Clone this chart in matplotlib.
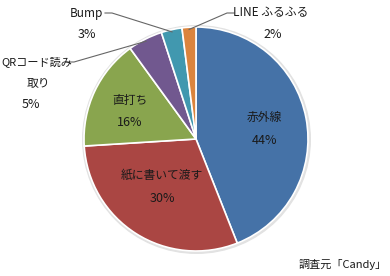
import numpy as np
import matplotlib.pyplot as plt
from matplotlib.patches import Circle

plt.rcParams['font.family'] = ['Noto Sans CJK JP', 'DejaVu Sans']

labels = ['赤外線', '紙に書いて渡す', '直打ち', 'QRコード読み\n取り', 'Bump', 'LINE ふるふる']
values = [44, 30, 16, 5, 3, 2]
colors = ['#4572A7', '#AA4643', '#89A54E', '#71588F', '#4198AF', '#DB843D']

W, H = 390, 276
cx, cy, r = 196, H - 139, 112

fig = plt.figure(figsize=(W / 100, H / 100), dpi=100)
ax = fig.add_axes([0, 0, 1, 1])

# soft shadow ring
ax.add_patch(Circle((cx + 0.5, cy - 0.5), r + 1.8, color='#e2e2e2', zorder=0))
wedges, _ = ax.pie(values, colors=colors, startangle=90, counterclock=False,
                   center=(cx, cy), radius=r, frame=True,
                   wedgeprops=dict(edgecolor='white', linewidth=1.2))
ax.set_xlim(0, W)
ax.set_ylim(0, H)
ax.set_aspect('equal')
ax.axis('off')

fs = 8.5
fp = 9
tc = '#1a1a1a'

def yy(y):
    return H - y

# inside labels
inside = {0: (264, 117, 141), 1: (162, 175, 199), 2: (130, 100, 123)}
for i, (x, y1, y2) in inside.items():
    ax.text(x, yy(y1), labels[i], ha='center', va='center', fontsize=fs, color=tc)
    ax.text(x, yy(y2), f'{values[i]}%', ha='center', va='center', fontsize=fp, color=tc)

def edge_point(i, frac=1.0):
    w = wedges[i]
    a = np.deg2rad((w.theta1 + w.theta2) / 2)
    return cx + r * frac * np.cos(a), cy + r * frac * np.sin(a)

# outside labels with leader lines
# QR
ax.text(1, yy(62), 'QRコード読み', ha='left', va='center', fontsize=8, color=tc)
ax.text(38, yy(83), '取り', ha='center', va='center', fontsize=fs, color=tc)
ax.text(31, yy(104), f'{values[3]}%', ha='center', va='center', fontsize=fp, color=tc)
ex, ey = edge_point(3, 0.98)
ax.plot([66, 74, ex], [yy(62), yy(62), ey], color='#666666', lw=0.8)

# Bump
ax.text(86, yy(13), labels[4], ha='center', va='center', fontsize=fs, color=tc)
ax.text(87, yy(35), f'{values[4]}%', ha='center', va='center', fontsize=fp, color=tc)
ex, ey = edge_point(4, 0.98)
ax.plot([105, 112, ex], [yy(13), yy(13), ey], color='#666666', lw=0.8)

# LINE
ax.text(271, yy(13), labels[5], ha='center', va='center', fontsize=fs, color=tc)
ax.text(273, yy(35), f'{values[5]}%', ha='center', va='center', fontsize=fp, color=tc)
ex, ey = edge_point(5, 0.98)
ax.plot([234, 227, ex], [yy(13), yy(13), ey], color='#666666', lw=0.8)

ax.text(343, yy(265), '調査元「Candy」', ha='center', va='center', fontsize=fs - 0.5, color=tc)

fig.savefig('out.png', dpi=100)
